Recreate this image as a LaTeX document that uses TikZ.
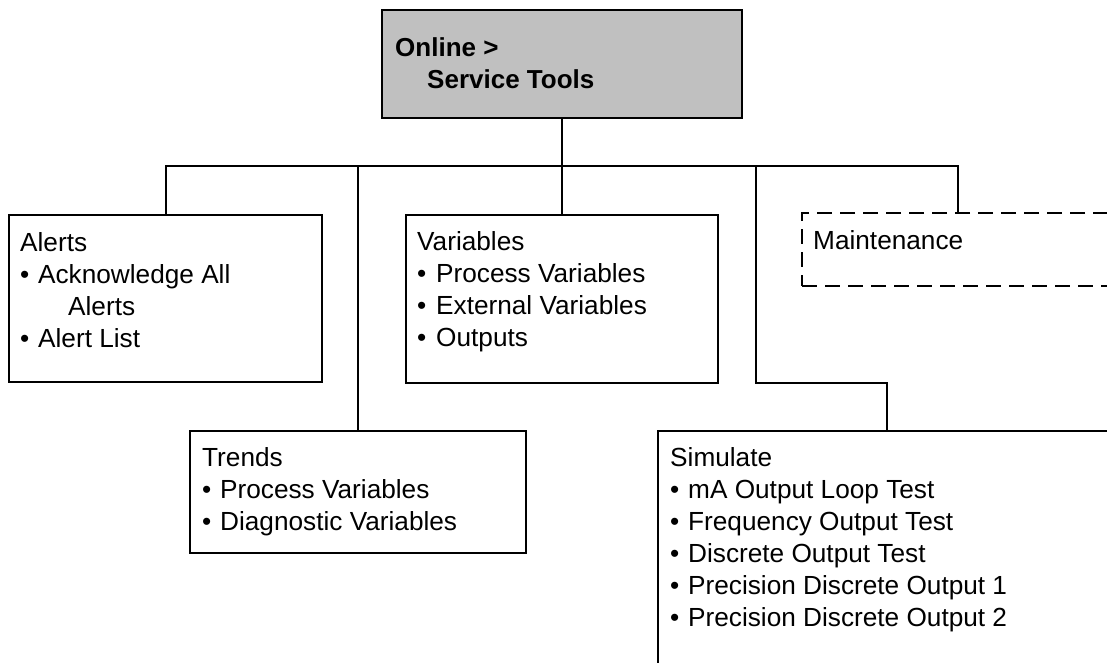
\documentclass[tikz,border=0pt]{standalone}
\usepackage{fontspec}
\setmainfont{Liberation Sans}
\definecolor{rootgray}{HTML}{C0C0C0}
\newcommand\blt[1]{\makebox[#1][l]{•}}
\begin{document}
\begin{tikzpicture}[x=1pt,y=-1pt,
  boxshape/.style={draw=black,line width=2pt,rectangle,inner sep=0pt},
  dashbox/.style={boxshape,dash pattern=on 15pt off 8pt},
  txt/.style={anchor=base west,inner sep=0pt,font=\fontsize{26.2}{32}\selectfont},
  btxt/.style={txt,font=\fontsize{26}{32}\selectfont\bfseries},
  conn/.style={draw=black,line width=2pt}]
\useasboundingbox (0,0) rectangle (1107,663);
\clip (0,0) rectangle (1107,663);
% boxes
\node[boxshape,fill=rootgray,minimum width=360pt,minimum height=108pt] (root) at (562,64) {};
\node[boxshape,minimum width=313pt,minimum height=167pt] (alerts) at (165.5,298.5) {};
\node[boxshape,minimum width=312pt,minimum height=168pt] (vars) at (562,299) {};
\node[boxshape,minimum width=336pt,minimum height=122pt] (trends) at (358,492) {};
\node[boxshape,minimum width=458pt,minimum height=260pt] (sim) at (887,561) {};
\node[dashbox,minimum width=312pt,minimum height=73pt] (maint) at (958,249.5) {};
% connectors
\coordinate (bus) at (562,166);
\coordinate (jog) at (756,383);
\draw[conn] (root.south) -- (bus) -- (vars.north);
\draw[conn] (alerts.north) |- (bus) -| (maint.north);
\draw[conn] (trends.north |- bus) -- (trends.north);
\draw[conn] (jog |- bus) -- (jog) -| (sim.north);
% texts
\node[btxt] (r1) at (395,57) {Online >};
\node[btxt] (r2) at (427,89) {Service Tools};
\node[txt] (a1) at (20,251) {Alerts};
\node[txt] (a2) at (20,283) {\blt{18pt}Acknowledge All};
\node[txt] (a3) at (68,315) {Alerts};
\node[txt] (a4) at (20,347) {\blt{18pt}Alert List};
\node[txt] (v1) at (417,250) {Variables};
\node[txt] (v2) at (417,282) {\blt{19pt}Process Variables};
\node[txt] (v3) at (417,314) {\blt{19pt}External Variables};
\node[txt] (v4) at (417,346) {\blt{19pt}Outputs};
\node[txt] (t1) at (202,466) {Trends};
\node[txt] (t2) at (202,498) {\blt{18pt}Process Variables};
\node[txt] (t3) at (202,530) {\blt{18pt}Diagnostic Variables};
\node[txt] (s1) at (670,466) {Simulate};
\node[txt] (s2) at (670,498) {\blt{18pt}mA Output Loop Test};
\node[txt] (s3) at (670,530) {\blt{18pt}Frequency Output Test};
\node[txt] (s4) at (670,562) {\blt{18pt}Discrete Output Test};
\node[txt] (s5) at (670,594) {\blt{18pt}Precision Discrete Output 1};
\node[txt] (s6) at (670,626) {\blt{18pt}Precision Discrete Output 2};
\node[txt] (m1) at (813,249) {Maintenance};
\end{tikzpicture}
\end{document}
